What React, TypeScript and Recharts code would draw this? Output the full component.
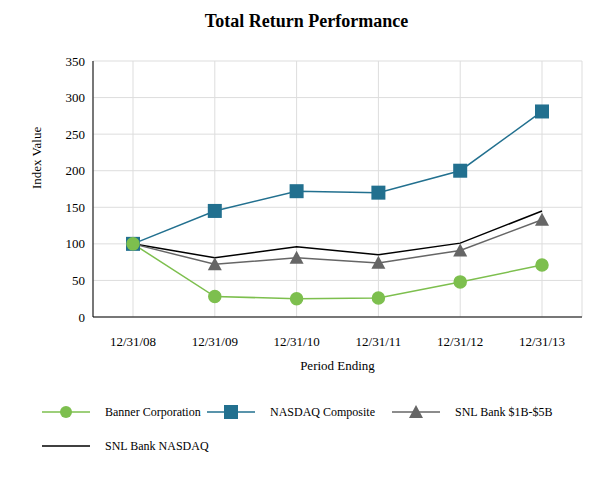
import { LineChart, Line, XAxis, YAxis, CartesianGrid } from "recharts";

const categories = ["12/31/08", "12/31/09", "12/31/10", "12/31/11", "12/31/12", "12/31/13"];
const banner = [100, 28, 25, 26, 48, 71];
const nasdaq = [100, 145, 172, 170, 200, 281];
const snl1b5b = [100, 72, 81, 74, 91, 133];
const snlNasdaq = [100, 81, 96, 85, 101, 145];
const yTicks = [0, 50, 100, 150, 200, 250, 300, 350];

const data = categories.map((name, i) => ({
  name,
  banner: banner[i],
  nasdaq: nasdaq[i],
  snl1b5b: snl1b5b[i],
  snlNasdaq: snlNasdaq[i],
}));

const GREEN = "#7dbf4e";
const BLUE = "#22708f";
const GREY = "#666666";
const FONT = "Liberation Serif";

const Square = ({ cx, cy }: any) => (
  <rect x={cx - 7} y={cy - 7} width={14} height={14} fill={BLUE} />
);
const Triangle = ({ cx, cy }: any) => (
  <polygon points={`${cx},${cy - 7} ${cx + 7},${cy + 6} ${cx - 7},${cy + 6}`} fill={GREY} />
);

function LegendItem({ x, y, color, marker, label }: any) {
  return (
    <g>
      <line x1={x} y1={y} x2={x + 48} y2={y} stroke={color} strokeWidth={1.5} />
      {marker === "circle" && <circle cx={x + 24} cy={y} r={6} fill={color} />}
      {marker === "square" && <rect x={x + 17} y={y - 7} width={14} height={14} fill={color} />}
      {marker === "triangle" && (
        <polygon points={`${x + 24},${y - 7} ${x + 31},${y + 6} ${x + 17},${y + 6}`} fill={color} />
      )}
      <text x={x + 63} y={y + 4} fontSize={12} fill="#000">{label}</text>
    </g>
  );
}

export default function App() {
  return (
    <div style={{ position: "absolute", left: 0, top: 0, width: 613, height: 480, background: "#fff", fontFamily: FONT }}>
      <style>{`svg text, svg tspan { font-family: "Liberation Serif", serif !important; }`}</style>
      <div style={{ position: "absolute", top: 11, width: 613, textAlign: "center", fontSize: 18, fontWeight: "bold" }}>
        Total Return Performance
      </div>
      <div style={{ position: "absolute", top: 0, left: 0 }}>
        <LineChart width={613} height={380} data={data} margin={{ top: 61, right: 31, left: 0, bottom: 0 }}>
          <CartesianGrid stroke="#dddddd" />
          <XAxis
            dataKey="name"
            padding={{ left: 40, right: 40 }}
            stroke="#000"
            tickLine={false}
            tick={{ fill: "#000", fontSize: 13 }}
            tickMargin={14}
            height={63}
            label={{ value: "Period Ending", position: "insideBottom", offset: 10, fill: "#000", fontSize: 13 }}
          />
          <YAxis
            domain={[0, 350]}
            ticks={yTicks}
            stroke="#000"
            tickLine={false}
            width={93}
            tick={{ fill: "#000", fontSize: 13 }}
            label={{ value: "Index Value", angle: -90, position: "insideLeft", offset: 36, fill: "#000", fontSize: 13 }}
          />
          <Line dataKey="snlNasdaq" stroke="#000" strokeWidth={1.5} dot={false} isAnimationActive={false} />
          <Line dataKey="snl1b5b" stroke={GREY} strokeWidth={1.5} dot={<Triangle />} isAnimationActive={false} />
          <Line dataKey="nasdaq" stroke={BLUE} strokeWidth={1.5} dot={<Square />} isAnimationActive={false} />
          <Line dataKey="banner" stroke={GREEN} strokeWidth={1.5} dot={{ r: 6, fill: GREEN, stroke: GREEN }} isAnimationActive={false} />
        </LineChart>
      </div>
      <svg style={{ position: "absolute", left: 0, top: 390 }} width={613} height={80}>
        <LegendItem x={42} y={22} color={GREEN} marker="circle" label="Banner Corporation" />
        <LegendItem x={207} y={22} color={BLUE} marker="square" label="NASDAQ Composite" />
        <LegendItem x={392} y={22} color={GREY} marker="triangle" label="SNL Bank $1B-$5B" />
        <LegendItem x={42} y={56} color="#000" marker="none" label="SNL Bank NASDAQ" />
      </svg>
    </div>
  );
}
